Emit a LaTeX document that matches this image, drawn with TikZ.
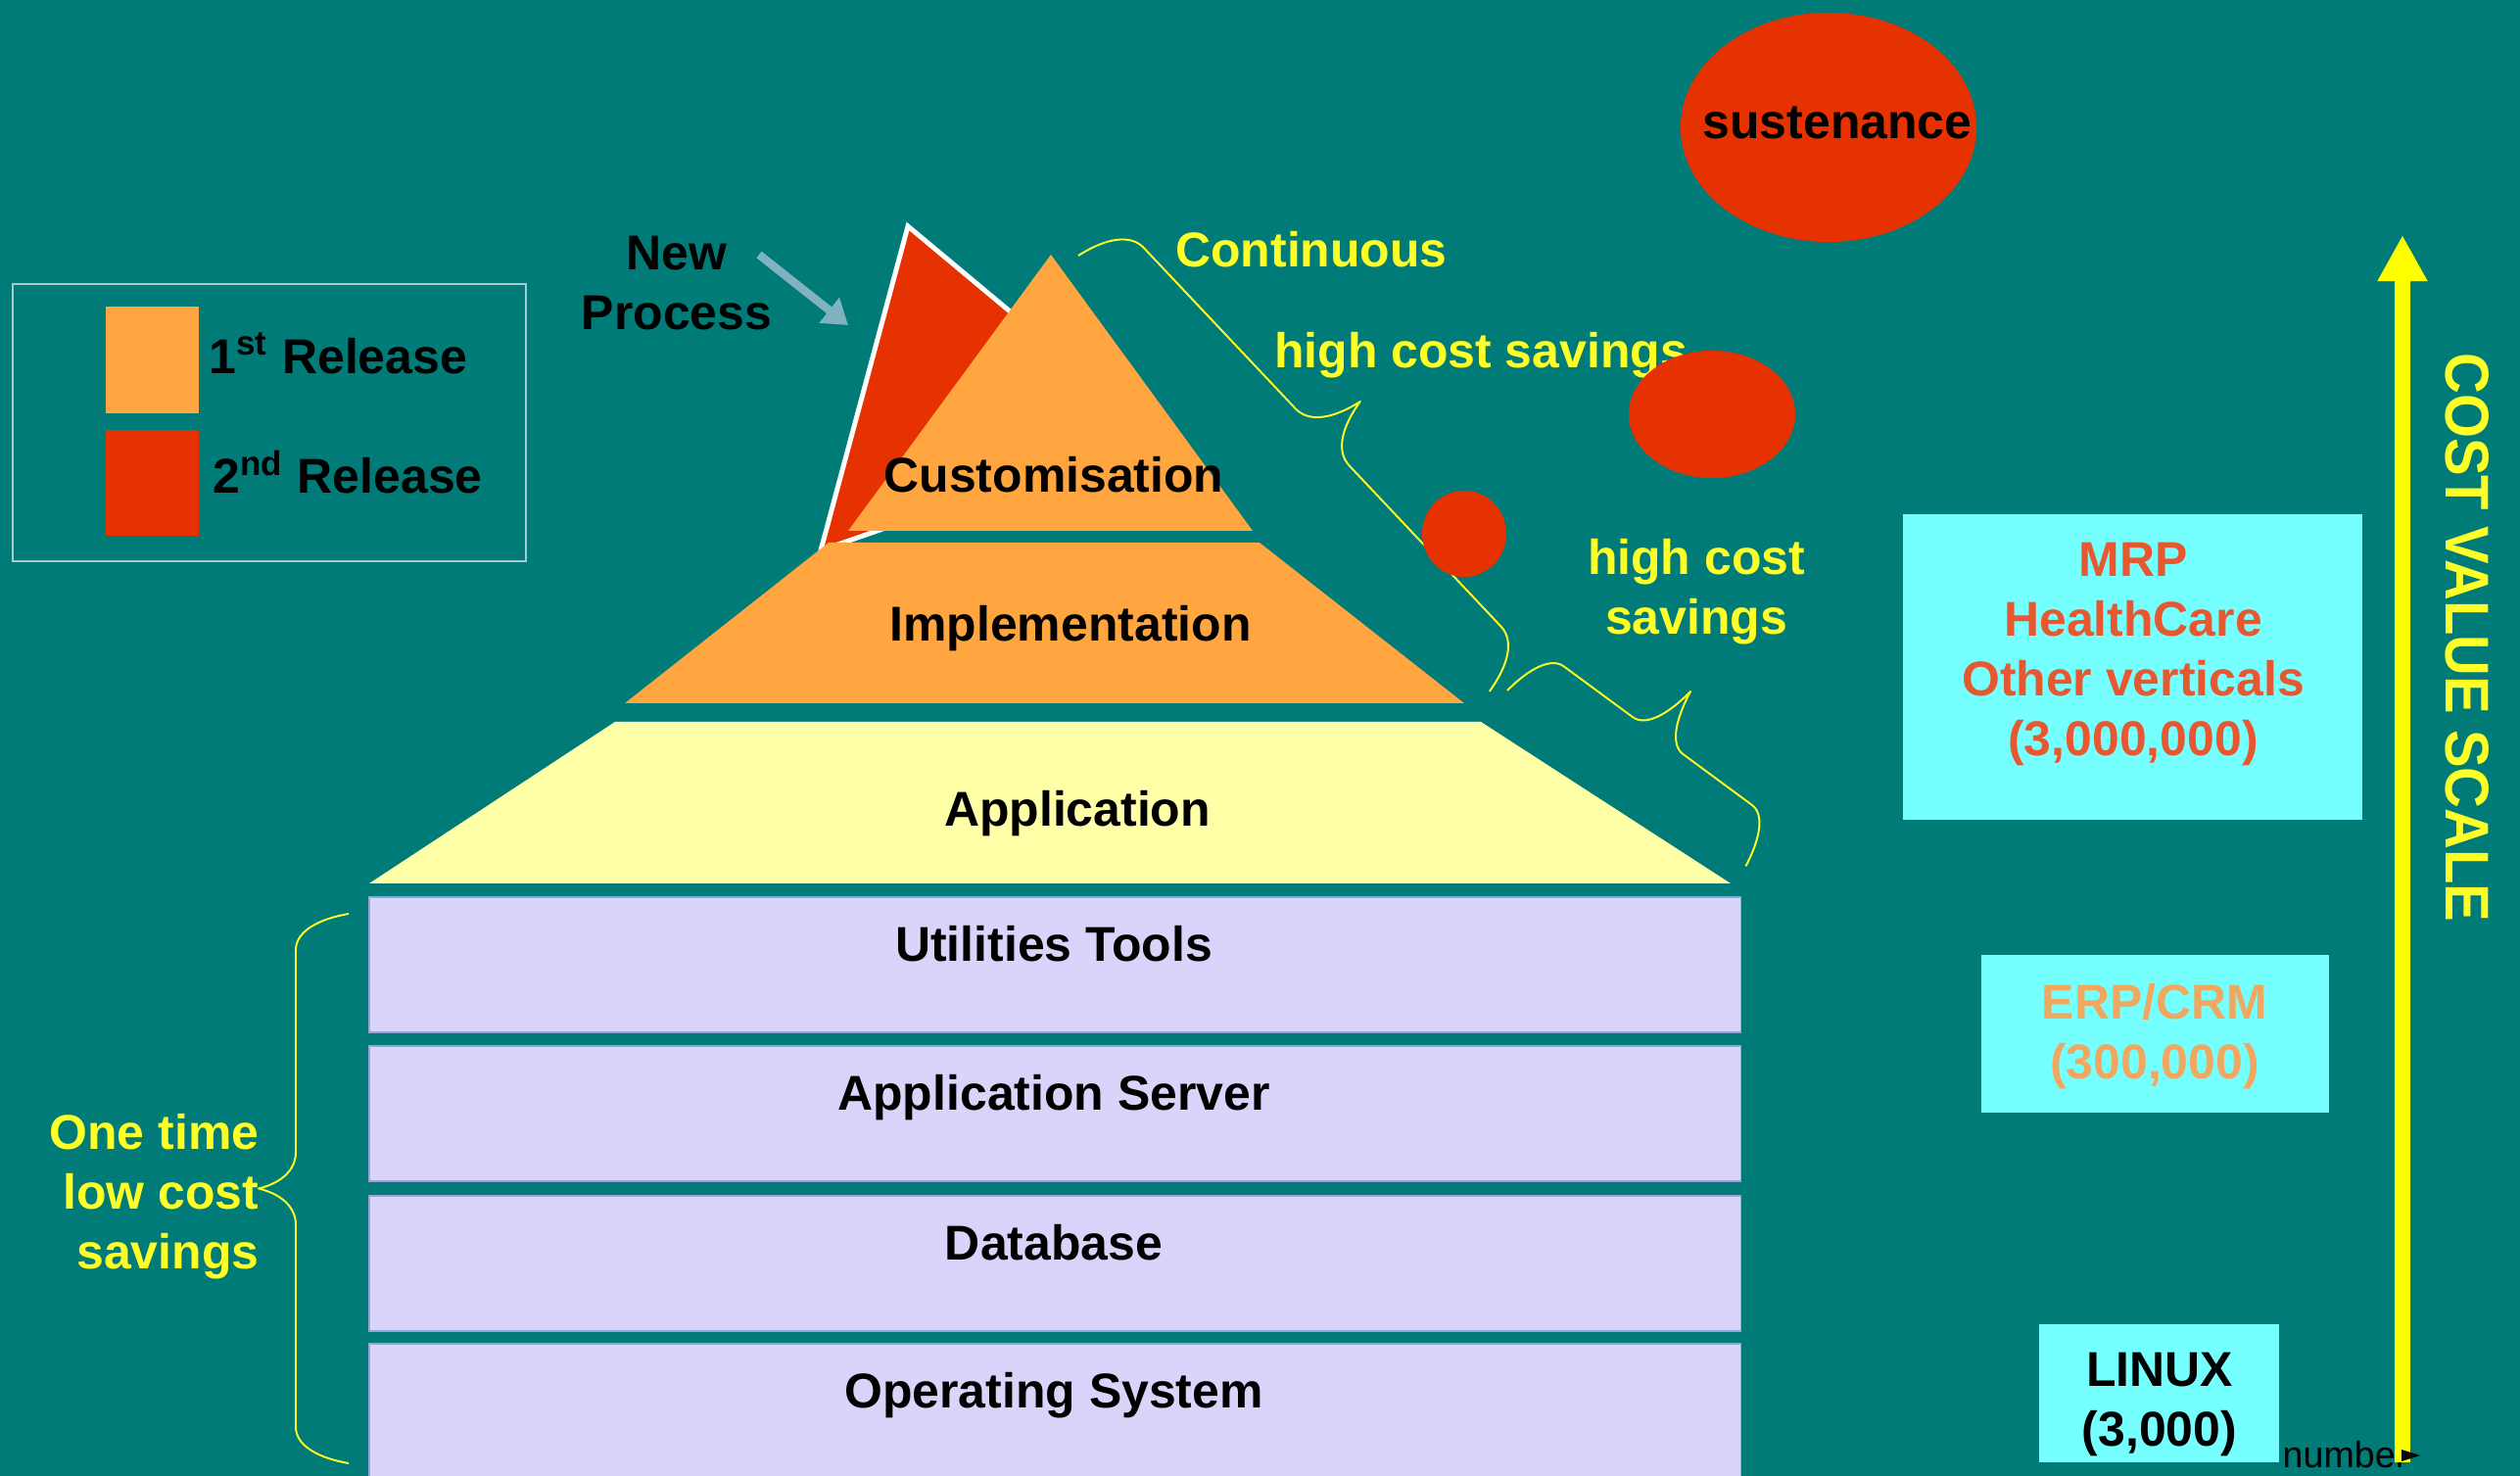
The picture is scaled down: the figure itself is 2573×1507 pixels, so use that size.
\documentclass[tikz,border=0pt]{standalone}
\usepackage{fontspec}
\setmainfont{Liberation Sans}
\usetikzlibrary{arrows.meta}

\definecolor{bg}{RGB}{0,123,120}
\definecolor{relA}{RGB}{255,166,64}
\definecolor{relB}{RGB}{230,50,0}
\definecolor{appY}{RGB}{255,255,168}
\definecolor{lav}{RGB}{216,212,250}
\definecolor{lavedge}{RGB}{150,165,215}
\definecolor{cyanbox}{RGB}{118,255,255}
\definecolor{ytext}{RGB}{255,255,40}
\definecolor{mrpc}{RGB}{232,88,48}
\definecolor{erpc}{RGB}{240,168,96}
\definecolor{arrowc}{RGB}{128,178,192}
\definecolor{legline}{RGB}{170,200,210}
\definecolor{scaley}{RGB}{255,255,0}

\begin{document}
\begin{tikzpicture}[x=0.01cm,y=-0.01cm,
  lbl/.style={font=\fontsize{14.2}{17.3}\selectfont\bfseries, inner sep=0pt, align=center},
  ylbl/.style={lbl, text=ytext},
  layer/.style={fill=lav, draw=lavedge, line width=0.3pt},
  cbox/.style={fill=cyanbox},
  bracey/.style={draw=ytext, line width=0.55pt, line join=round},
  redshape/.style={fill=relB},
]
% background
\fill[bg] (0,0) rectangle (2573,1507);
\useasboundingbox (0,0) rectangle (2573,1507);

% legend
\draw[legline, line width=0.6pt] (13,290) rectangle (537,573);
\fill[relA] (108,313) rectangle (203,422);
\fill[relB] (108,439) rectangle (203,547);
\node[lbl, anchor=west] (r1) at (213,361) {1\textsuperscript{st} Release};
\node[lbl, anchor=west] (r2) at (217,482) {2\textsuperscript{nd} Release};

% lower layers
\path[layer] (377,916) rectangle (1777,1054);
\path[layer] (377,1068) rectangle (1777,1206);
\path[layer] (377,1221) rectangle (1777,1359);
\path[layer] (377,1372) rectangle (1777,1515);
\node[lbl] (util) at (1076,964) {Utilities Tools};
\node[lbl] (appsrv) at (1076,1121) {Application Server};
\node[lbl] (db) at (1076,1269) {Database};
\node[lbl] (os) at (1076,1425) {Operating System};

% application trapezoid
\fill[appY] (377,902) -- (1767,902) -- (1512,737) -- (628,737) -- cycle;
\node[lbl] (app) at (1100,831) {Application};

% second release triangle
\filldraw[fill=relB, draw=white, line width=1.4pt, line join=miter] (927,231) -- (838,562) -- (1181,443) -- cycle;

% implementation
\fill[relA] (638,718) -- (1495,718) -- (1286,554) -- (846,554) -- cycle;
\node[lbl] (impl) at (1093,642) {Implementation};

% customisation
\fill[relA] (866,542) -- (1279,542) -- (1073,260) -- cycle;
\node[lbl] (cust) at (1076,485) {Customisation};

% new process
\node[lbl] (np) at (691,289) {New\\Process};
\coordinate (npS) at (775,260);
\coordinate (npE) at (866,332);
\draw[arrowc, line width=2.4pt, -{Triangle[width=9pt,length=7pt]}] (npS) -- (npE);

% braces (drawn in local along/normal frames, px units)
\begin{scope}[shift={(1101,261)}, x={(0.00687cm,-0.00728cm)}, y={(0.00728cm,0.00687cm)}]
\draw[bracey] (0,0) .. controls (6,32) and (20,54) .. (40,54) -- (265.5,54)
  .. controls (285.5,54) and (299.5,75) .. (305.5,107)
  .. controls (311.5,75) and (325.5,54) .. (345.5,54) -- (571,54)
  .. controls (591,54) and (605,32) .. (611,0);
\end{scope}
\begin{scope}[shift={(1539,705)}, x={(0.00805cm,-0.00593cm)}, y={(0.00593cm,0.00805cm)}]
\draw[bracey] (0,0) .. controls (4.8,32) and (16,54) .. (32,54) -- (119,54)
  .. controls (135,54) and (146.2,76.4) .. (151,110)
  .. controls (155.8,76.4) and (167,54) .. (183,54) -- (270,54)
  .. controls (286,54) and (297.2,32) .. (302,0);
\end{scope}
\begin{scope}[shift={(356,1494)}, x={(0cm,0.01cm)}, y={(-0.01cm,0cm)}]
\draw[bracey] (0,0) .. controls (5.5,32) and (18.5,54) .. (37,54) -- (243.5,54)
  .. controls (262,54) and (275,69.2) .. (280.5,92)
  .. controls (286,69.2) and (299,54) .. (317.5,54) -- (524,54)
  .. controls (542.5,54) and (555.5,32) .. (561,0);
\end{scope}

% yellow labels
\node[ylbl] (cont) at (1339,255) {Continuous};
\node[ylbl] (hcs1) at (1512,363) {high cost savings};
\node[ylbl] (hcs2) at (1732,604) {high cost\\savings};
\node[ylbl, align=right, anchor=east] (onetime) at (265,1222) {One time\\low cost\\savings};

% red blobs
\fill[redshape] (1867,130) ellipse [x radius=1.51cm, y radius=1.17cm];
\fill[redshape] (1748,423) ellipse [x radius=0.85cm, y radius=0.65cm];
\fill[redshape] (1495,545) ellipse [x radius=0.43cm, y radius=0.44cm];
\node[lbl] (sust) at (1876,125) {sustenance};

% cyan boxes
\fill[cbox] (1943,525) rectangle (2412,837);
\node[lbl, text=mrpc] (mrp) at (2178,668) {MRP\\HealthCare\\Other verticals\\(3,000,000)};
\fill[cbox] (2023,975) rectangle (2378,1136);
\node[lbl, text=erpc] (erp) at (2200,1058) {ERP/CRM\\(300,000)};
\fill[cbox] (2082,1352) rectangle (2327,1493);
\node[lbl] (linux) at (2205,1434) {LINUX\\(3,000)};

% scale arrow
\node[font=\fontsize{10.7}{12}\selectfont, anchor=base west, inner sep=0pt] (num) at (2330,1498) {number};
\coordinate (sb) at (2453,1493);
\coordinate (st) at (2453,240);
\draw[scaley, line width=4.3pt, -{Triangle[width=13.6pt,length=13.4pt]}] (sb) -- (st);
\fill[black] (2452,1480) -- (2471,1486) -- (2452,1492) -- cycle;
\node[ylbl, rotate=-90] (cvs) at (2519,651) {\scalebox{0.92}[1]{\fontsize{17.9}{20}\selectfont\bfseries COST VALUE SCALE}};
\end{tikzpicture}
\end{document}
